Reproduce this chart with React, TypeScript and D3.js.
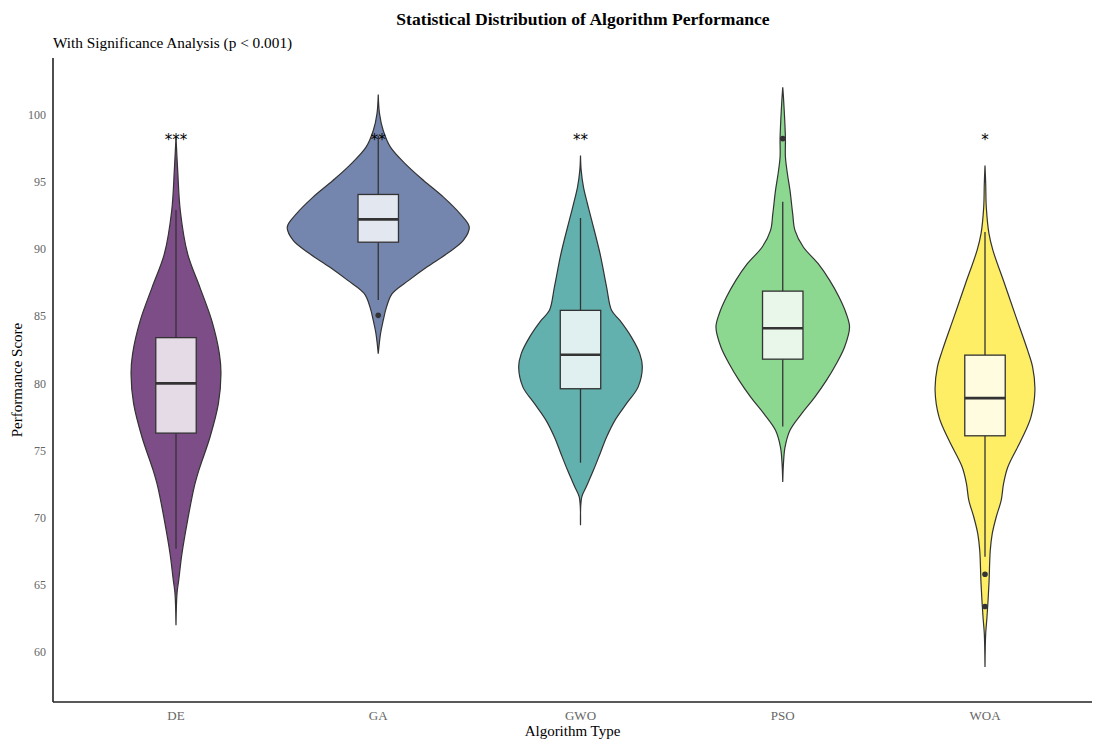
import React from "react";
import * as d3 from "d3";

const categories = ["DE", "GA", "GWO", "PSO", "WOA"];
const colors = ["#440154", "#3B528B", "#21908C", "#5DC863", "#FDE725"];
const sigLabels = ["***", "**", "**", "", "*"];
const yTicks = [60, 65, 70, 75, 80, 85, 90, 95, 100];

// Box statistics: [whiskerLow, q1, median, q3, whiskerHigh]
const boxDE = [67.7, 76.3, 80.0, 83.4, 92.9];
const boxGA = [86.2, 90.5, 92.2, 94.05, 98.4];
const boxGWO = [74.1, 79.6, 82.13, 85.43, 92.3];
const boxPSO = [76.8, 81.8, 84.1, 86.86, 93.5];
const boxWOA = [67.1, 76.1, 78.9, 82.1, 91.25];
const boxes = [boxDE, boxGA, boxGWO, boxPSO, boxWOA];

// Outliers
const outDE: number[] = [];
const outGA = [85.06];
const outGWO: number[] = [];
const outPSO = [98.2];
const outWOA = [65.8, 63.4];
const outliers = [outDE, outGA, outGWO, outPSO, outWOA];

// Violin profiles: [score, relative density]
const violinDE = [
  [98.3, 0], [95.84, 1.7], [92.86, 4.3], [89.64, 11.7], [87.16, 24], [84.68, 36],
  [82.21, 43.7], [80.72, 45.3], [78.49, 42.7], [76.01, 34.3], [73.53, 23],
  [72.29, 18.3], [69.81, 11.7], [67.34, 6], [65.35, 2.7], [64.36, 1], [62.0, 0],
];
const violinGA = [
  [101.49, 0], [100.05, 1.3], [98.81, 5], [97.57, 12.3], [96.33, 27.3], [95.09, 45.7],
  [93.85, 65.7], [92.62, 82.3], [91.62, 91.7], [90.63, 85.7], [89.64, 69], [88.65, 49],
  [87.66, 30.7], [86.67, 14], [85.67, 8.3], [84.68, 5], [83.7, 2.3], [82.21, 0],
];
const violinGWO = [
  [96.95, 0], [95.84, 0.7], [94.6, 3], [93.36, 7], [92.12, 11.3], [89.64, 19.7],
  [87.16, 26.3], [85.43, 31.3], [84.68, 39.7], [83.44, 51.3], [82.21, 59.7],
  [81.21, 62.3], [79.72, 58], [78.49, 46.3], [77.25, 34.7], [76.01, 26.3],
  [74.77, 19.7], [73.53, 13], [72.29, 5.7], [71.55, 1.3], [69.44, 0],
];
const violinPSO = [
  [102.03, 0], [101.29, 0.7], [99.55, 2], [98.19, 2.7], [96.83, 2.7], [95.59, 4.7],
  [94.35, 7.3], [92.62, 10], [91.38, 12.3], [90.14, 20.7], [88.9, 35.7], [87.66, 47.3],
  [86.42, 56.7], [85.18, 64], [84.19, 67.3], [82.7, 62.3], [81.46, 54], [80.22, 44],
  [78.98, 32.3], [77.75, 19], [76.51, 7.3], [75.26, 2.3], [74.03, 0.7], [72.66, 0],
];
const violinWOA = [
  [96.21, 0], [94.85, 0.7], [93.11, 1.3], [91.13, 4], [89.89, 8], [87.41, 19.7],
  [84.93, 31.3], [82.45, 43], [81.21, 48], [79.48, 50.3], [77.49, 46.3], [75.76, 36.3],
  [73.78, 23], [72.54, 18.7], [71.3, 16.3], [70.06, 11.3], [68.82, 7.3], [67.58, 5.3],
  [65.11, 4], [62.62, 2], [61.39, 0.7], [58.91, 0],
];
const violins = [violinDE, violinGA, violinGWO, violinPSO, violinWOA];

const W = 1099;
const H = 740;
const panel = { left: 53, right: 1092, top: 58, bottom: 702 };
const font = "'Liberation Serif', 'Times New Roman', serif";
const stroke = "#333333";

export default function App() {
  const x = d3.scalePoint<string>().domain(categories).range([176, 985]);
  const step = x.step();
  const y = d3.scaleLinear().domain([56.3, 104.2]).range([panel.bottom, panel.top]);
  const maxDens = d3.max(violins.flat(), (d) => d[1]) as number;
  const w = d3.scaleLinear().domain([0, maxDens]).range([0, step * 0.45]);
  const boxHalf = step * 0.1;

  return (
    <svg
      width={W}
      height={H}
      style={{ position: "absolute", left: 0, top: 0, background: "#fff" }}
      fontFamily={font}
    >
      <rect x={0} y={0} width={W} height={H} fill="#fff" />
      {/* title */}
      <text x={583} y={25} textAnchor="middle" fontSize={17.6} fontWeight="bold" fill="#000">
        Statistical Distribution of Algorithm Performance
      </text>
      <text x={panel.left} y={48} fontSize={15.3} fill="#000">
        With Significance Analysis (p &lt; 0.001)
      </text>

      {/* y tick labels */}
      {yTicks.map((t) => (
        <text key={t} x={46} y={y(t)} dy="0.35em" textAnchor="end" fontSize={12} fill="#666666">
          {t}
        </text>
      ))}
      {/* x tick labels */}
      {categories.map((c) => (
        <text key={c} x={x(c)} y={720} textAnchor="middle" fontSize={13} fill="#666666">
          {c}
        </text>
      ))}
      {/* axis titles */}
      <text x={(panel.left + panel.right) / 2} y={736} textAnchor="middle" fontSize={15} fill="#000">
        Algorithm Type
      </text>
      <text
        transform={`translate(22,${(panel.top + panel.bottom) / 2}) rotate(-90)`}
        textAnchor="middle"
        fontSize={15}
        fill="#000"
      >
        Performance Score
      </text>

      {/* violins */}
      {categories.map((c, i) => {
        const cx = x(c) as number;
        const area = d3
          .area<number[]>()
          .y((d) => y(d[0]))
          .x0((d) => cx - w(d[1]))
          .x1((d) => cx + w(d[1]))
          .curve(d3.curveCatmullRom.alpha(0.5));
        return (
          <path
            key={c}
            d={area(violins[i]) || ""}
            fill={colors[i]}
            fillOpacity={0.7}
            stroke={stroke}
            strokeWidth={1.2}
          />
        );
      })}

      {/* boxplots */}
      {categories.map((c, i) => {
        const cx = x(c) as number;
        const [lo, q1, med, q3, hi] = boxes[i];
        return (
          <g key={c}>
            <line x1={cx} x2={cx} y1={y(hi)} y2={y(q3)} stroke={stroke} strokeWidth={1.3} />
            <line x1={cx} x2={cx} y1={y(q1)} y2={y(lo)} stroke={stroke} strokeWidth={1.3} />
            <rect
              x={cx - boxHalf}
              y={y(q3)}
              width={boxHalf * 2}
              height={y(q1) - y(q3)}
              fill="#fff"
              fillOpacity={0.8}
              stroke={stroke}
              strokeWidth={1.3}
            />
            <line x1={cx - boxHalf} x2={cx + boxHalf} y1={y(med)} y2={y(med)} stroke={stroke} strokeWidth={2.6} />
            {outliers[i].map((o, j) => (
              <circle key={j} cx={cx} cy={y(o)} r={2.8} fill={stroke} />
            ))}
          </g>
        );
      })}

      {/* significance labels */}
      {categories.map((c, i) => (
        <text key={c} x={x(c)} y={y(97.75)} textAnchor="middle" fontSize={15} fontFamily="'DejaVu Sans', sans-serif" fill="#000">
          {sigLabels[i]}
        </text>
      ))}

      {/* axes */}
      <line x1={panel.left} x2={panel.left} y1={panel.top} y2={panel.bottom} stroke="#222" strokeWidth={1.6} />
      <line x1={panel.left} x2={panel.right} y1={panel.bottom} y2={panel.bottom} stroke="#222" strokeWidth={1.6} />
    </svg>
  );
}
